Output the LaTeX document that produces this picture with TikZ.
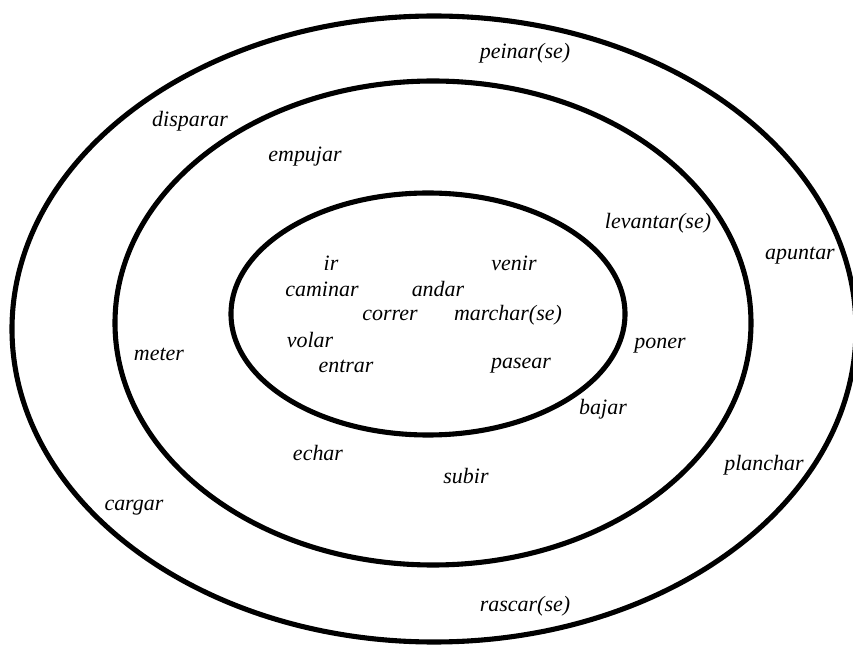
\documentclass[tikz,border=0pt]{standalone}
\usepackage{fontspec}
\setmainfont{Liberation Serif}

\begin{document}
\begin{tikzpicture}[x=0.02cm, y=-0.02cm,
    ring/.style={line width=2.9pt},
    verb/.style={font=\fontsize{12.5}{14}\selectfont\itshape, inner sep=0pt}
]
  \useasboundingbox (0,0) rectangle (853,645);

  % the three rings
  \draw[ring] (434,329) ellipse (422 and 313);
  \draw[ring] (433,323) ellipse (318 and 242);
  \draw[ring] (428,314) ellipse (197 and 121);

  % inner ring
  \foreach \x/\y/\nm/\txt in {331/263/ir/ir, 514/263/venir/venir,
      322/289/caminar/caminar, 438/289/andar/andar,
      390/315/correr/correr, 508/315/marchar/marchar(se),
      310/340/volar/volar, 346/366/entrar/entrar, 521/366/pasear/pasear}{
    \node[verb] (\nm) at (\x,\y) {\txt};
  }

  % middle ring
  \foreach \x/\y/\nm/\txt in {305/157/empujar/empujar, 658/223/levantar/levantar(se),
      159/354/meter/meter, 660/346/poner/poner, 603/409/bajar/bajar,
      318/453/echar/echar, 466/476/subir/subir}{
    \node[verb] (\nm) at (\x,\y) {\txt};
  }

  % outer ring
  \foreach \x/\y/\nm/\txt in {525/53/peinar/peinar(se), 190/121/disparar/disparar,
      800/256/apuntar/apuntar, 764/465/planchar/planchar,
      134/508/cargar/cargar, 525/606/rascar/rascar(se)}{
    \node[verb] (\nm) at (\x,\y) {\txt};
  }
\end{tikzpicture}
\end{document}
